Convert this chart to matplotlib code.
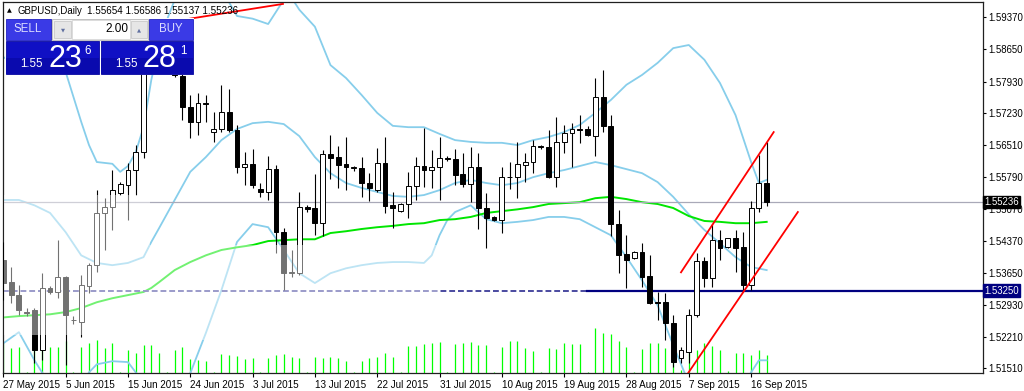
import matplotlib
matplotlib.use("Agg")
import matplotlib.pyplot as plt
import matplotlib.transforms as mtransforms
from matplotlib.patches import Rectangle

plt.rcParams['font.family'] = ['Liberation Sans', 'DejaVu Sans']

# daily bars 27 May 2015 .. 18 Sep 2015 (broker with Sunday bars)
opens = [1.5393, 1.5344, 1.5315, 1.5277, 1.5281, 1.5192, 1.5331, 1.5322, 1.5355, 1.5259,
         1.5254, 1.5335, 1.5382, 1.5499, 1.5512, 1.5543, 1.5561, 1.5595, 1.5635, 1.5878,
         1.5898, 1.5880, 1.5875, 1.5806, 1.5736, 1.5703, 1.5745, 1.5680, 1.5687, 1.5725,
         1.5685, 1.5602, 1.5609, 1.5552, 1.5546, 1.5597, 1.5456, 1.5364, 1.5364, 1.5512,
         1.5510, 1.5476, 1.5631, 1.5624, 1.5609, 1.5600, 1.5600, 1.5566, 1.5550, 1.5611,
         1.5516, 1.5503, 1.5519, 1.5559, 1.5604, 1.5595, 1.5602, 1.5622, 1.5620, 1.5586,
         1.5564, 1.5602, 1.5510, 1.5490, 1.5483, 1.5579, 1.5579, 1.5607, 1.5613, 1.5649,
         1.5647, 1.5579, 1.5658, 1.5678, 1.5687, 1.5687, 1.5671, 1.5759, 1.5694, 1.5474,
         1.5407, 1.5398, 1.5411, 1.5357, 1.5299, 1.5299, 1.5252, 1.5174, 1.5187, 1.5270,
         1.5391, 1.5353, 1.5438, 1.5422, 1.5443, 1.5422, 1.5337, 1.5510, 1.55654]
highs = [1.5434, 1.5378, 1.5337, 1.5286, 1.5286, 1.5364, 1.5335, 1.5438, 1.5357, 1.5268,
         1.5360, 1.5387, 1.5550, 1.5532, 1.5595, 1.5568, 1.5611, 1.5651, 1.5890, 1.5930,
         1.5929, 1.5887, 1.5890, 1.5830, 1.5763, 1.5768, 1.5763, 1.5725, 1.5786, 1.5777,
         1.5696, 1.5635, 1.5642, 1.5566, 1.5626, 1.5606, 1.5465, 1.5416, 1.5546, 1.5516,
         1.5586, 1.5640, 1.5673, 1.5649, 1.5669, 1.5605, 1.5624, 1.5588, 1.5644, 1.5669,
         1.5546, 1.5521, 1.5591, 1.5624, 1.5689, 1.5640, 1.5669, 1.5626, 1.5642, 1.5633,
         1.5647, 1.5633, 1.5544, 1.5492, 1.5602, 1.5613, 1.5658, 1.5633, 1.5662, 1.5651,
         1.5685, 1.5714, 1.5696, 1.5700, 1.5718, 1.5694, 1.5801, 1.5819, 1.5718, 1.5505,
         1.5449, 1.5413, 1.5431, 1.5404, 1.5322, 1.5319, 1.5270, 1.5198, 1.5283, 1.5409,
         1.5400, 1.5474, 1.5461, 1.5443, 1.5461, 1.5456, 1.5526, 1.5629, 1.56586]
lows = [1.5304, 1.5297, 1.5270, 1.5268, 1.5162, 1.5169, 1.5317, 1.5308, 1.5158, 1.5250,
        1.5221, 1.5319, 1.5366, 1.5416, 1.5461, 1.5539, 1.5483, 1.5539, 1.5622, 1.5850,
        1.5865, 1.5870, 1.5804, 1.5707, 1.5667, 1.5674, 1.5703, 1.5658, 1.5680, 1.5680,
        1.5588, 1.5561, 1.5555, 1.5535, 1.5528, 1.5409, 1.5326, 1.5355, 1.5360, 1.5500,
        1.5449, 1.5447, 1.5575, 1.5555, 1.5550, 1.5594, 1.5535, 1.5526, 1.5546, 1.5499,
        1.5465, 1.5501, 1.5488, 1.5528, 1.5557, 1.5555, 1.5528, 1.5616, 1.5561, 1.5557,
        1.5523, 1.5463, 1.5420, 1.5481, 1.5454, 1.5552, 1.5532, 1.5569, 1.5588, 1.5642,
        1.5577, 1.5557, 1.5633, 1.5602, 1.5656, 1.5671, 1.5626, 1.5680, 1.5447, 1.5364,
        1.5331, 1.5395, 1.5333, 1.5295, 1.5259, 1.5214, 1.5153, 1.5162, 1.5162, 1.5265,
        1.5333, 1.5333, 1.5393, 1.5420, 1.5366, 1.5326, 1.5326, 1.5501, 1.55137]
closes = [1.5342, 1.5315, 1.5281, 1.5276, 1.5192, 1.5331, 1.5322, 1.5355, 1.5270, 1.5260,
          1.5337, 1.5382, 1.5499, 1.5512, 1.5550, 1.5564, 1.5595, 1.5635, 1.5875, 1.5898,
          1.5880, 1.5875, 1.5808, 1.5736, 1.5703, 1.5745, 1.5743, 1.5687, 1.5725, 1.5685,
          1.5602, 1.5609, 1.5561, 1.5546, 1.5597, 1.5456, 1.5364, 1.5366, 1.5512, 1.5508,
          1.5476, 1.5631, 1.5622, 1.5606, 1.5602, 1.5601, 1.5566, 1.5554, 1.5611, 1.5514,
          1.5510, 1.5519, 1.5559, 1.5604, 1.5595, 1.5602, 1.5622, 1.5620, 1.5584, 1.5564,
          1.5602, 1.5510, 1.5488, 1.5483, 1.5579, 1.5580, 1.5609, 1.5613, 1.5649, 1.5647,
          1.5579, 1.5658, 1.5678, 1.5687, 1.5685, 1.5674, 1.5759, 1.5694, 1.5474, 1.5405,
          1.5393, 1.5411, 1.5355, 1.5297, 1.5298, 1.5252, 1.5165, 1.5192, 1.5270, 1.5391,
          1.5353, 1.5438, 1.5420, 1.5443, 1.5420, 1.5337, 1.5510, 1.5565, 1.55236]
volumes = [75000, 62500, 65000, 2500, 70000, 67500, 65000, 65000, 80000, 2500,
           65000, 75000, 82500, 62500, 75000, 2500, 57500, 50000, 70000, 70000,
           50000, 2500, 57500, 65000, 35000, 32500, 30000, 2500, 47500, 45000,
           42500, 35000, 37500, 2500, 37500, 45000, 47500, 40000, 37500, 2500,
           40000, 37500, 40000, 37500, 30000, 2500, 30000, 37500, 40000, 50000,
           40000, 2500, 67500, 67500, 72500, 75000, 77500, 2500, 72500, 75000,
           77500, 70000, 70000, 2500, 65000, 80000, 80000, 62500, 55000, 2500,
           62500, 60000, 75000, 72500, 72500, 2500, 112500, 100000, 97500, 80000,
           65000, 2500, 60000, 75000, 75000, 62500, 55000, 7500, 62500, 57500,
           75000, 67500, 57500, 5000, 50000, 50000, 45000, 57500, 45000]

date_ticks = [0, 8, 16, 24, 32, 40, 48, 56, 64, 72, 80, 88, 96]
date_labels = ["27 May 2015", "5 Jun 2015", "15 Jun 2015", "24 Jun 2015", "3 Jul 2015",
               "13 Jul 2015", "22 Jul 2015", "31 Jul 2015", "10 Aug 2015", "19 Aug 2015",
               "28 Aug 2015", "7 Sep 2015", "16 Sep 2015"]
price_ticks = [1.5151, 1.5221, 1.5293, 1.5365, 1.5437, 1.5507, 1.5579, 1.5651,
               1.5723, 1.5793, 1.5865, 1.5937]

# Bollinger bands and moving average
bb_up_x = [0, 2, 4, 6, 8, 10, 11, 12, 14, 15, 16, 17, 18, 19, 20, 21, 22, 24, 26, 28, 29,
           30, 32, 34, 36, 37, 38, 40, 42, 44, 46, 48, 50, 52, 54, 56, 58, 60, 62, 64, 66,
           68, 70, 72, 74, 76, 78, 80, 82, 84, 86, 88, 90, 92, 94, 96, 97, 98]
bb_up = [1.5848, 1.5828, 1.5864, 1.5860, 1.5815, 1.5703, 1.5651, 1.5613, 1.5609, 1.5591,
         1.5604, 1.5635, 1.5691, 1.5797, 1.5875, 1.5931, 1.5976, 1.6039, 1.6021, 1.5999,
         1.5970, 1.5940, 1.5934, 1.5922, 1.5976, 1.5981, 1.5954, 1.5916, 1.5830, 1.5801,
         1.5763, 1.5723, 1.5694, 1.5691, 1.5691, 1.5676, 1.5662, 1.5658, 1.5656, 1.5656,
         1.5651, 1.5662, 1.5669, 1.5680, 1.5696, 1.5723, 1.5752, 1.5786, 1.5808, 1.5835,
         1.5868, 1.5875, 1.5842, 1.5790, 1.5718, 1.5613, 1.5566, 1.5573]
bb_mid_x = [0, 2, 4, 6, 8, 10, 12, 14, 16, 18, 19, 20, 22, 24, 26, 28, 30, 32, 34, 36, 38,
            40, 42, 44, 46, 48, 50, 52, 54, 56, 58, 60, 62, 64, 66, 68, 70, 72, 74, 76,
            78, 80, 82, 84, 86, 88, 90, 92, 94, 96, 98]
bb_mid = [1.5528, 1.5528, 1.5516, 1.5499, 1.5456, 1.5404, 1.5387, 1.5382, 1.5387, 1.5400,
          1.5434, 1.5465, 1.5528, 1.5591, 1.5624, 1.5662, 1.5687, 1.5700, 1.5703, 1.5698,
          1.5671, 1.5624, 1.5588, 1.5566, 1.5555, 1.5546, 1.5537, 1.5535, 1.5539, 1.5550,
          1.5566, 1.5573, 1.5566, 1.5561, 1.5566, 1.5579, 1.5588, 1.5595, 1.5604, 1.5613,
          1.5606, 1.5597, 1.5588, 1.5568, 1.5535, 1.5496, 1.5461, 1.5431, 1.5400, 1.5378,
          1.5371]
bb_low_x = [0, 2, 4, 6, 8, 10, 11, 12, 14, 16, 17, 18, 20, 22, 24, 26, 28, 30, 32, 34, 36,
            38, 40, 42, 44, 46, 48, 50, 52, 54, 55, 56, 57, 58, 60, 62, 64, 66, 68, 70, 72,
            74, 76, 78, 80, 82, 84, 86, 88, 90, 92, 94, 96, 97, 98]
bb_low = [1.5207, 1.5232, 1.5169, 1.5113, 1.5091, 1.5113, 1.5142, 1.5160, 1.5167, 1.5165,
          1.5142, 1.5113, 1.5079, 1.5091, 1.5140, 1.5230, 1.5326, 1.5434, 1.5474, 1.5467,
          1.5416, 1.5364, 1.5342, 1.5364, 1.5375, 1.5382, 1.5387, 1.5389, 1.5389, 1.5387,
          1.5404, 1.5449, 1.5483, 1.5501, 1.5516, 1.5485, 1.5476, 1.5479, 1.5483, 1.5490,
          1.5490, 1.5485, 1.5467, 1.5449, 1.5400, 1.5348, 1.5292, 1.5203, 1.5118, 1.5079,
          1.5073, 1.5082, 1.5142, 1.5169, 1.5169]
ma_x = [0, 2, 4, 6, 8, 10, 12, 14, 16, 18, 19, 20, 22, 24, 26, 28, 30, 32, 34, 36, 38, 40,
        42, 44, 46, 48, 50, 52, 54, 56, 58, 60, 62, 64, 66, 68, 70, 72, 74, 76, 78, 80,
        82, 84, 86, 88, 90, 92, 94, 96, 98]
ma = [1.5265, 1.5268, 1.5270, 1.5272, 1.5277, 1.5286, 1.5299, 1.5308, 1.5315, 1.5322,
      1.5331, 1.5344, 1.5371, 1.5389, 1.5404, 1.5416, 1.5422, 1.5427, 1.5436, 1.5438,
      1.5440, 1.5440, 1.5454, 1.5458, 1.5463, 1.5467, 1.5470, 1.5474, 1.5476, 1.5483,
      1.5485, 1.5490, 1.5499, 1.5503, 1.5507, 1.5512, 1.5519, 1.5521, 1.5523, 1.5532,
      1.5535, 1.5530, 1.5523, 1.5519, 1.5510, 1.5492, 1.5481, 1.5479, 1.5476, 1.5476,
      1.5479]

# drawn objects: trend lines (bar index, price) and horizontal levels
channel_top = [(87.0, 1.5366), (98.9, 1.5680)]
channel_bottom = [(87.9, 1.5140), (102.0, 1.5501)]
old_line = [(20.0, 1.5923), (35.9, 1.5967)]
level = 1.53250
bid = 1.55236

W, H = 1024, 391
fig = plt.figure(figsize=(W / 100, H / 100), dpi=100)
fig.patch.set_facecolor("white")
L, R, T, B = 3, 983, 2, 373.3
ax = fig.add_axes([L / W, (H - B) / H, (R - L) / W, (B - T) / H])
ax.set_xlim(-0.04, 125.77)
ax.set_ylim(1.51399, 1.59713)

# volumes along the bottom
vmax = max(volumes) * 8.25
ax.vlines(range(len(volumes)), 0, [v / vmax for v in volumes],
          transform=ax.get_xaxis_transform(), color="#00ff00", lw=0.9, zorder=1)

ax.plot(bb_up_x, bb_up, color="#87ceeb", lw=1.3, zorder=2)
ax.plot(bb_mid_x, bb_mid, color="#87ceeb", lw=1.3, zorder=2)
ax.plot(bb_low_x, bb_low, color="#87ceeb", lw=1.3, zorder=2)
ax.plot(ma_x, ma, color="#00e600", lw=1.4, zorder=2)

ax.axhline(bid, color="#a9a9b8", lw=0.9, zorder=2.5)
ax.axhline(level, xmin=0, xmax=0.596, color="#4a4aa0", lw=1.4,
           ls=(0, (3, 1.5)), zorder=2.5)
ax.axhline(level, xmin=0.596, xmax=1, color="#000080", lw=1.6, zorder=2.5)

for i in range(len(opens)):
    o, h, l, c = opens[i], highs[i], lows[i], closes[i]
    ax.vlines(i, l, h, color="black", lw=0.8, zorder=3)
    if abs(c - o) < 0.00006:
        ax.hlines(o, i - 0.32, i + 0.32, color="black", lw=0.8, zorder=3.1)
    else:
        ax.add_patch(Rectangle((i - 0.31, min(o, c)), 0.62, abs(c - o),
                               facecolor="white" if c > o else "black",
                               edgecolor="black", lw=0.7, zorder=3.1))

for line in (channel_top, channel_bottom, old_line):
    ax.plot([p[0] for p in line], [p[1] for p in line], color="#ff0000", lw=1.3,
            zorder=4)

ax.yaxis.tick_right()
ax.set_yticks(price_ticks)
ax.set_yticklabels(["%.5f" % p for p in price_ticks])
ax.set_xticks(date_ticks)
ax.set_xticklabels(date_labels)
for lbl in ax.get_xticklabels():
    lbl.set_horizontalalignment("left")
ax.tick_params(axis="y", length=2, width=0.8, pad=1.5, labelsize=6.9)
ax.tick_params(axis="x", length=3, width=0.8, pad=1.5, labelsize=7.1)
for sp in ax.spines.values():
    sp.set_linewidth(0.9)
    sp.set_color("#202020")

blend = mtransforms.blended_transform_factory(ax.transAxes, ax.transData)
ax.text(1.001, bid, "%.5f" % bid, transform=blend, fontsize=6.9, color="white",
        va="center", ha="left", zorder=10, clip_on=False,
        bbox=dict(boxstyle="square,pad=0.12", fc="black", ec="black"))
ax.text(1.001, level, "%.5f" % level, transform=blend, fontsize=6.9, color="white",
        va="center", ha="left", zorder=10, clip_on=False,
        bbox=dict(boxstyle="square,pad=0.12", fc="#000080", ec="#000080"))

# overlay in pixel coordinates: faded watermark patches, header, trade panel
pax = fig.add_axes([0, 0, 1, 1], zorder=5)
pax.set_xlim(0, W)
pax.set_ylim(H, 0)
pax.axis("off")
for (x0, y0, w, h) in [(4, 195, 146, 140), (150, 245, 290, 55), (170, 300, 70, 40)]:
    pax.add_patch(Rectangle((x0, y0), w, h, fc="white", ec="none", alpha=0.45))

pax.text(7, 11, "\u25b2", fontsize=4.5, va="center", ha="left", color="black",
         family="DejaVu Sans")
pax.text(17, 11, "GBPUSD,Daily", fontsize=6.9, va="center", ha="left")
pax.text(87, 11, "%.5f %.5f %.5f %.5f" % (opens[-1], highs[-1], lows[-1], closes[-1]),
         fontsize=7.1, va="center", ha="left")

pax.add_patch(Rectangle((5, 18), 189, 57, fc="white", ec="none"))
for x0, w, label, tx in [(6, 45, "SELL", 28), (149, 44, "BUY", 171)]:
    pax.add_patch(Rectangle((x0, 19), w, 21, fc="#3a3ae6", ec="#2020c0", lw=0.6))
    pax.text(tx, 29.5, label, fontsize=8.3, color="#dcdcff", va="center", ha="center")
pax.add_patch(Rectangle((52, 19), 96, 21, fc="#f2f2f2", ec="#b8b8b8", lw=0.6))
pax.add_patch(Rectangle((54, 21), 17, 17, fc="#e6e6e6", ec="#c4c4c4", lw=0.5))
pax.add_patch(Rectangle((131, 21), 16, 17, fc="#e6e6e6", ec="#c4c4c4", lw=0.5))
pax.add_patch(Rectangle((72, 20), 58, 19, fc="white", ec="#d0d0d0", lw=0.5))
pax.text(62.5, 29.5, "\u25bc", fontsize=3.8, color="#6070a0", va="center", ha="center",
         family="DejaVu Sans")
pax.text(139, 29.5, "\u25b2", fontsize=3.8, color="#6070a0", va="center", ha="center",
         family="DejaVu Sans")
pax.text(128, 29.5, "2.00", fontsize=8.5, color="black", va="center", ha="right")

for x0, w, big, small, xs, xb, xe in [(6, 93, "23", "6", 20, 48, 84),
                                      (101, 92, "28", "1", 115, 142, 180)]:
    pax.add_patch(Rectangle((x0, 41), w, 33, fc="#1010c4", ec="#0808a0", lw=0.6))
    pax.add_patch(Rectangle((x0, 58), w, 16, fc="#0a0aae", ec="none"))
    pax.text(xs, 67, "1.55", fontsize=8.3, color="white", va="baseline", ha="left")
    pax.text(xb, 67, big, fontsize=22, color="white", va="baseline", ha="left")
    pax.text(xe, 51, small, fontsize=8.3, color="white", va="center", ha="left")

fig.savefig("out.png", dpi=100)
